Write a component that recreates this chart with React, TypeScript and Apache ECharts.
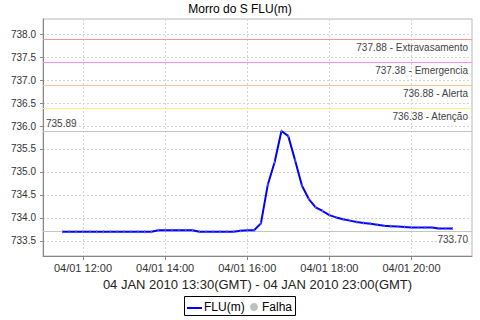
import React, { useEffect, useRef } from "react";
import * as echarts from "echarts";

const TITLE = "Morro do S FLU(m)";
const X_NAME = "04 JAN 2010 13:30(GMT) - 04 JAN 2010 23:00(GMT)";
const DATE_PREFIX = "04/01";

const times = [
  "11:30", "11:40", "11:50", "12:00", "12:10", "12:20", "12:30", "12:40", "12:50",
  "13:00", "13:10", "13:20", "13:30", "13:40", "13:50", "14:00", "14:10", "14:20",
  "14:30", "14:40", "14:50", "15:00", "15:10", "15:20", "15:30", "15:40", "15:50",
  "16:00", "16:10", "16:20", "16:30", "16:40", "16:50", "17:00", "17:10", "17:20",
  "17:30", "17:40", "17:50", "18:00", "18:10", "18:20", "18:30", "18:40", "18:50",
  "19:00", "19:10", "19:20", "19:30", "19:40", "19:50", "20:00", "20:10", "20:20",
  "20:30", "20:40", "20:50", "21:00",
];

const fluValues = [
  733.70, 733.70, 733.70, 733.70, 733.70, 733.70, 733.70, 733.70, 733.70,
  733.70, 733.70, 733.70, 733.70, 733.70, 733.73, 733.73, 733.73, 733.73,
  733.73, 733.73, 733.70, 733.70, 733.70, 733.70, 733.70, 733.70, 733.72,
  733.73, 733.73, 733.88, 734.72, 735.21, 735.89, 735.78, 735.25, 734.70,
  734.41, 734.23, 734.15, 734.06, 734.01, 733.97, 733.94, 733.91, 733.89,
  733.87, 733.85, 733.83, 733.82, 733.81, 733.80, 733.79, 733.79, 733.79,
  733.79, 733.77, 733.77, 733.77,
];

const thresholdValues = [737.88, 737.38, 736.88, 736.38];
const thresholdNames = ["Extravasamento", "Emergencia", "Alerta", "Atenção"];
const thresholdColors = ["#f29a9a", "#ff88ff", "#f8c898", "#fcf080"];

const maxValue = 735.89;
const minValue = 733.70;

const xTickHours = [12, 14, 16, 18, 20];
const yTickValues = [733.5, 734.0, 734.5, 735.0, 735.5, 736.0, 736.5, 737.0, 737.5, 738.0];

const legendNames = ["FLU(m)", "Falha"];

const toHours = (t: string) => {
  const [h, m] = t.split(":").map(Number);
  return h + m / 60;
};

const FONT = "Liberation Sans";

export default function App() {
  const ref = useRef<HTMLDivElement>(null);

  useEffect(() => {
    if (!ref.current) return;
    const chart = echarts.init(ref.current, undefined, { renderer: "svg" });

    const data = times.map((t, i) => [toHours(t), fluValues[i]]);

    const markData: any[] = thresholdValues.map((v, i) => ({
      yAxis: v,
      lineStyle: { color: thresholdColors[i], type: "solid", width: 1 },
      label: {
        show: true,
        position: "insideEndBottom",
        formatter: `${v.toFixed(2)} - ${thresholdNames[i]}`,
        color: "#444",
        fontFamily: FONT,
        fontSize: 10,
        distance: [4, 3],
      },
    }));
    markData.push({
      yAxis: maxValue,
      lineStyle: { color: "#c4c4c4", type: "solid", width: 1 },
      label: {
        show: true,
        position: "insideStartTop",
        formatter: maxValue.toFixed(2),
        color: "#444",
        fontFamily: FONT,
        fontSize: 10,
        distance: [3, 3],
      },
    });
    markData.push({
      yAxis: minValue,
      lineStyle: { color: "#c4c4c4", type: "solid", width: 1 },
      label: {
        show: true,
        position: "insideEndBottom",
        formatter: minValue.toFixed(2),
        color: "#444",
        fontFamily: FONT,
        fontSize: 10,
        distance: [4, 3],
      },
    });

    chart.setOption({
      animation: false,
      backgroundColor: "#ffffff",
      title: {
        text: TITLE,
        left: "center",
        top: 3,
        padding: 0,
        textStyle: { fontFamily: FONT, fontSize: 12, fontWeight: "normal", color: "#000" },
      },
      grid: {
        left: 43,
        right: 8,
        top: 19,
        bottom: 64,
        show: true,
        borderColor: "#b8b8b8",
        borderWidth: 1,
        backgroundColor: "#ffffff",
      },
      xAxis: {
        type: "value",
        min: 11.025,
        max: 21.475,
        name: X_NAME,
        nameLocation: "middle",
        nameGap: 19,
        nameTextStyle: { fontFamily: FONT, fontSize: 13, color: "#222" },
        axisLine: { show: true, lineStyle: { color: "#888", width: 1 } },
        axisTick: { show: true, length: 4, customValues: xTickHours, lineStyle: { color: "#888" } },
        axisLabel: {
          customValues: xTickHours,
          margin: 6,
          fontFamily: FONT,
          fontSize: 11,
          color: "#333",
          formatter: (v: number) => `${DATE_PREFIX} ${String(Math.round(v)).padStart(2, "0")}:00`,
        },
        splitLine: { show: true, lineStyle: { color: "#d4d4d4", type: [2, 2], width: 1 } },
      },
      yAxis: {
        type: "value",
        min: 733.17,
        max: 738.33,
        axisLine: { show: true, lineStyle: { color: "#888", width: 1 } },
        axisTick: { show: true, length: 3, customValues: yTickValues, lineStyle: { color: "#888" } },
        axisLabel: {
          customValues: yTickValues,
          margin: 7,
          fontFamily: FONT,
          fontSize: 10,
          color: "#333",
          formatter: (v: number) => v.toFixed(1),
        },
        splitLine: { show: true, lineStyle: { color: "#d4d4d4", type: [2, 2], width: 1 } },
      },
      series: [
        {
          name: legendNames[0],
          type: "line",
          data,
          showSymbol: true,
          symbol: "rect",
          symbolSize: [1, 3],
          itemStyle: { color: "#6a6aff" },
          lineStyle: { color: "#0000ff", width: 2 },
          z: 5,
          markLine: {
            silent: true,
            symbol: "none",
            animation: false,
            data: markData,
          },
        },
      ],
      graphic: [
        {
          type: "rect",
          shape: { x: 184.5, y: 296.5, width: 111, height: 19 },
          style: { fill: "#fff", stroke: "#000", lineWidth: 1 },
        },
        {
          type: "line",
          shape: { x1: 187, y1: 308, x2: 202, y2: 308 },
          style: { stroke: "#0000ff", lineWidth: 2 },
        },
        {
          type: "text",
          x: 204,
          y: 307,
          style: {
            text: legendNames[0],
            fontFamily: FONT,
            fontSize: 12,
            fill: "#000",
            verticalAlign: "middle",
          },
        },
        {
          type: "circle",
          shape: { cx: 254, cy: 307, r: 4 },
          style: { fill: "#c0c0c0" },
        },
        {
          type: "text",
          x: 262,
          y: 307,
          style: {
            text: legendNames[1],
            fontFamily: FONT,
            fontSize: 12,
            fill: "#000",
            verticalAlign: "middle",
          },
        },
      ],
    });

    return () => chart.dispose();
  }, []);

  return <div ref={ref} style={{ width: 480, height: 320, position: "absolute", left: 0, top: 0 }} />;
}
